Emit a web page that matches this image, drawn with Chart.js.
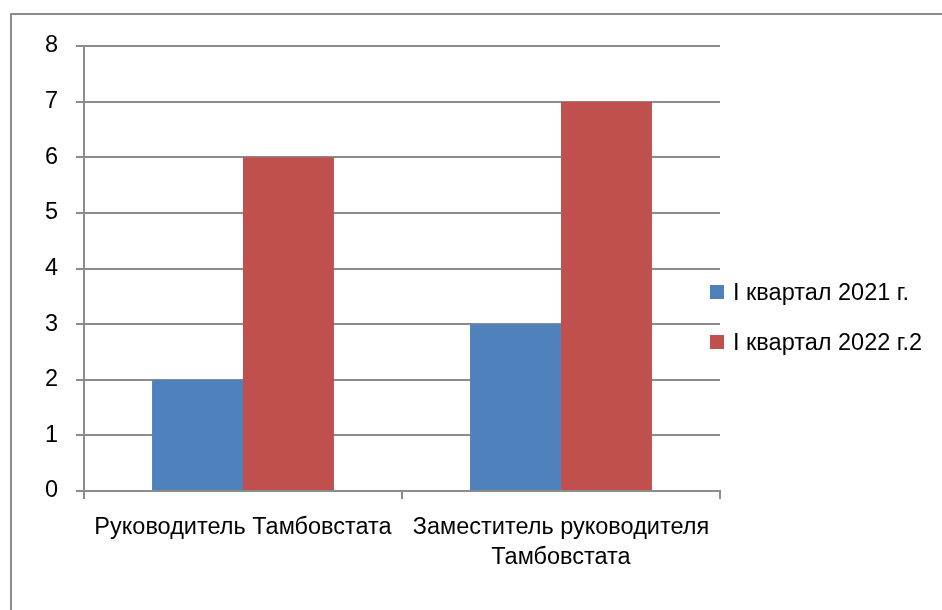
<!DOCTYPE html>
<html>
<head>
<meta charset="utf-8">
<script src="https://cdn.jsdelivr.net/npm/chart.js@4.4.1/dist/chart.umd.min.js"></script>
<style>
  html, body { margin: 0; padding: 0; background: #fff; overflow: hidden; }
  body { width: 942px; height: 610px; position: relative; }
  #frame { position: absolute; left: 10px; top: 13px; width: 1200px; height: 900px; border: 2px solid #8c8c8c; box-sizing: border-box; }
  #wrap { position: absolute; left: 0; top: 0; width: 942px; height: 610px; }
  #legend { position: absolute; left: 710px; top: 0; font-family: "Liberation Sans", Arial, sans-serif; font-size: 23.5px; line-height: 28px; color: #000; }
  .item { position: absolute; left: 0; white-space: nowrap; display: flex; align-items: center; height: 28px; }
  .box { width: 14px; height: 14px; margin-right: 9px; }
</style>
</head>
<body>
<div id="frame"></div>
<div id="wrap"><canvas id="c" width="942" height="610"></canvas></div>
<div id="legend"></div>
<script>
const categories = [["Руководитель Тамбовстата"], ["Заместитель руководителя", "Тамбовстата"]];
const seriesNames = ["I квартал 2021 г.", "I квартал 2022 г.2"];
const series2021 = [2, 3];
const series2022 = [6, 7];
const seriesColors = ["#4F81BD", "#C0504D"];
const yTicks = [0, 1, 2, 3, 4, 5, 6, 7, 8];

const FONT = "'Liberation Sans', Arial, sans-serif";
const gridColor = "#8c8c8c";

const chart = new Chart(document.getElementById('c'), {
  type: 'bar',
  data: {
    labels: categories,
    datasets: [
      { label: seriesNames[0], data: series2021, backgroundColor: seriesColors[0], categoryPercentage: 0.572, barPercentage: 1 },
      { label: seriesNames[1], data: series2022, backgroundColor: seriesColors[1], categoryPercentage: 0.572, barPercentage: 1 }
    ]
  },
  options: {
    responsive: false,
    animation: false,
    layout: { padding: { left: 10, top: 46, right: 222, bottom: 0 } },
    plugins: { legend: { display: false }, tooltip: { enabled: false } },
    scales: {
      x: {
        grid: { display: true, drawOnChartArea: false, drawTicks: true, tickLength: 8, color: gridColor, lineWidth: 2, offset: true },
        border: { color: gridColor, width: 2 },
        ticks: { color: '#000', font: { family: FONT, size: 23.5, lineHeight: 1.25 }, padding: 14, maxRotation: 0, autoSkip: false },
        afterFit: s => { s.height = 119; }
      },
      y: {
        min: 0, max: 8,
        afterBuildTicks: s => { s.ticks = yTicks.map(v => ({ value: v })); },
        grid: { color: gridColor, lineWidth: 2, tickLength: 8, drawTicks: true },
        border: { color: gridColor, width: 2 },
        ticks: { color: '#000', font: { family: FONT, size: 23.5 }, padding: 18 },
        afterFit: s => { s.width = 74; }
      }
    }
  }
});

const legend = document.getElementById('legend');
const legendTops = [278, 328];
seriesNames.forEach((name, i) => {
  const d = document.createElement('div');
  d.className = 'item';
  d.style.top = legendTops[i] + 'px';
  const b = document.createElement('span');
  b.className = 'box';
  b.style.background = seriesColors[i];
  const t = document.createElement('span');
  t.textContent = name;
  d.appendChild(b); d.appendChild(t);
  legend.appendChild(d);
});
</script>
</body>
</html>
